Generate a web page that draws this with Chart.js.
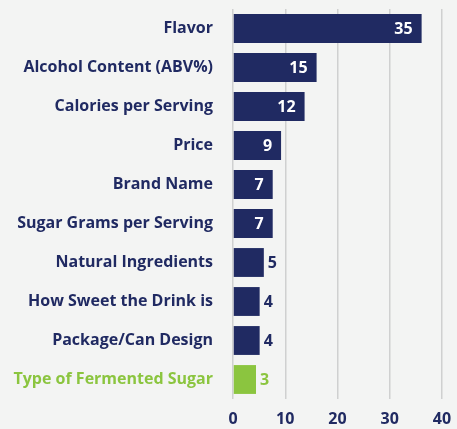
<!DOCTYPE html>
<html>
<head>
<meta charset="utf-8">
<script src="https://cdn.jsdelivr.net/npm/chart.js@4"></script>
<style>
  html, body { margin: 0; padding: 0; background: #f3f4f3; }
  #wrap { width: 457px; height: 429px; }
</style>
</head>
<body>
<div id="wrap"><canvas id="barChart"></canvas></div>
<script>
  const categories = [
    "Flavor",
    "Alcohol Content (ABV%)",
    "Calories per Serving",
    "Price",
    "Brand Name",
    "Sugar Grams per Serving",
    "Natural Ingredients",
    "How Sweet the Drink is",
    "Package/Can Design",
    "Type of Fermented Sugar",
  ];
  // bar lengths as drawn in the picture
  const values = [36.1, 16.0, 13.7, 9.2, 7.6, 7.6, 5.9, 5.1, 5.1, 4.4];
  // numbers printed on the bars
  const valueLabels = ["35", "15", "12", "9", "7", "7", "5", "4", "4", "3"];
  const xTicks = [0, 10, 20, 30, 40];

  const navy = "#202a62";
  const green = "#8bc53f";
  const barColors = categories.map((c, i) => (i === categories.length - 1 ? green : navy));

  const valueLabelPlugin = {
    id: "valueLabels",
    afterDatasetsDraw(chart) {
      const ctx = chart.ctx;
      const meta = chart.getDatasetMeta(0);
      ctx.save();
      ctx.font = "bold 16px 'Open Sans'";
      ctx.textBaseline = "middle";
      meta.data.forEach((bar, i) => {
        const inside = values[i] >= 7;
        if (inside) {
          ctx.fillStyle = "#ffffff";
          ctx.textAlign = "right";
          ctx.fillText(valueLabels[i], bar.x - 9, bar.y + 1);
        } else {
          ctx.fillStyle = barColors[i];
          ctx.textAlign = "left";
          ctx.fillText(valueLabels[i], bar.x + 4, bar.y + 1);
        }
      });
      ctx.restore();
    },
  };

  const barChartCtx = document.getElementById("barChart").getContext("2d");
  const barChart = new Chart(barChartCtx, {
    type: "bar",
    data: {
      labels: categories,
      datasets: [
        {
          data: values,
          backgroundColor: barColors,
          barPercentage: 0.74,
          categoryPercentage: 1,
        },
      ],
    },
    options: {
      indexAxis: "y",
      responsive: true,
      maintainAspectRatio: false,
      animation: false,
      layout: { padding: { top: 9, right: 15, left: 0, bottom: 4 } },
      plugins: { legend: { display: false }, tooltip: { enabled: false } },
      scales: {
        x: {
          min: 0,
          max: 40,
          afterBuildTicks(axis) {
            axis.ticks = xTicks.map((v) => ({ value: v }));
          },
          afterFit(axis) {
            axis.height = 26;
            axis.paddingLeft = 0;
            axis.paddingRight = 0;
          },
          grid: { color: "#cfd0d0", lineWidth: 1.5, drawTicks: false },
          border: { display: false },
          ticks: {
            padding: 11,
            maxRotation: 0,
            color: navy,
            font: { family: "'Open Sans'", size: 16, weight: "bold" },
          },
        },
        y: {
          grid: { display: false, drawTicks: false },
          border: { display: false },
          afterFit(axis) {
            axis.width = 233;
            axis.paddingTop = 0;
            axis.paddingBottom = 0;
          },
          ticks: {
            padding: 20,
            color: (c) => barColors[c.index],
            font: { family: "'Open Sans'", size: 16, weight: "bold" },
          },
        },
      },
    },
    plugins: [valueLabelPlugin],
  });
</script>
</body>
</html>
